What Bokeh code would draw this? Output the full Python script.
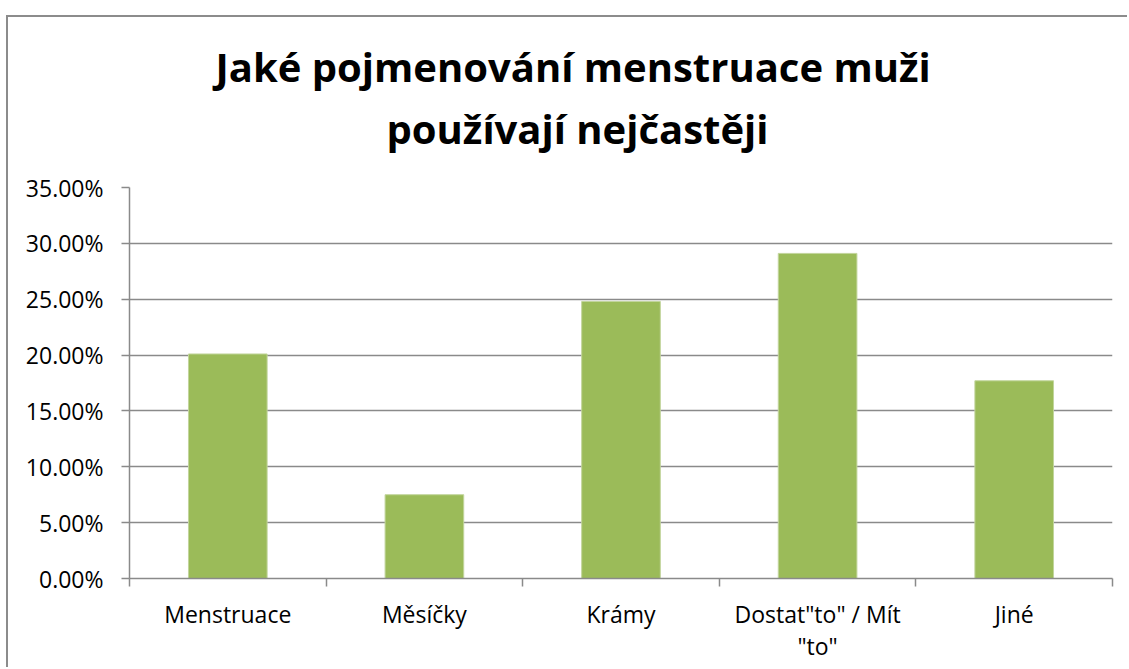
from bokeh.plotting import figure
from bokeh.models import (Range1d, LinearAxis, FixedTicker, NumeralTickFormatter, Title)
from bokeh.embed import file_html
from bokeh.resources import INLINE

# ---- data ----
categories = ["Menstruace", "Měsíčky", "Krámy", "Dostat\"to\" / Mít\n\"to\"", "Jiné"]
shares = [0.201, 0.075, 0.248, 0.291, 0.177]
y_ticks = [0.0, 0.05, 0.10, 0.15, 0.20, 0.25, 0.30, 0.35]
title_lines = ["Jaké pojmenování menstruace muži", "používají nejčastěji"]

FONT = "Open Sans"
GRID = "#8a8a8a"
BAR = "#9BBB59"

n = len(categories)
centers = [i + 0.5 for i in range(n)]
bounds = [float(i) for i in range(n + 1)]

p = figure(width=1121, height=652, output_backend="svg", toolbar_location=None,
           x_range=Range1d(0, n), y_range=Range1d(y_ticks[0], y_ticks[-1]),
           x_axis_type=None, min_border_left=121, min_border_right=17,
           min_border_top=170, min_border_bottom=91)
p.styles = {"margin-top": "15px", "margin-left": "6px",
            "border-left": "2px solid #8c8c8c", "border-top": "2px solid #8c8c8c"}
p.outline_line_color = None
p.background_fill_color = "white"
p.border_fill_color = "white"

p.vbar(x=centers, top=shares, width=0.4, bottom=0, fill_color=BAR,
       line_color="#c2d59c", line_width=1)

# y axis
ya = p.yaxis[0]
ya.ticker = FixedTicker(ticks=y_ticks)
ya.formatter = NumeralTickFormatter(format="0.00%")
ya.major_tick_out = 8
ya.major_tick_in = 0
ya.minor_tick_line_color = None
ya.axis_line_color = GRID
ya.axis_line_width = 1.5
ya.major_tick_line_color = GRID
ya.major_tick_line_width = 1.5
ya.major_label_standoff = 18
ya.major_label_text_font = FONT
ya.major_label_text_font_size = "23px"
ya.major_label_text_color = "black"

p.ygrid.grid_line_color = GRID
p.ygrid.grid_line_width = 1.5
p.xgrid.visible = False

# x axis: ticks at category boundaries
xt = LinearAxis(ticker=FixedTicker(ticks=bounds), major_tick_out=8, major_tick_in=0,
                minor_tick_line_color=None, axis_line_color=GRID, axis_line_width=1.5,
                major_tick_line_color=GRID, major_tick_line_width=1.5,
                major_label_text_font_size="0px", major_label_standoff=0,
                major_label_overrides={b: "" for b in bounds})
p.add_layout(xt, "below")

# x axis: category labels at centers
xl = LinearAxis(ticker=FixedTicker(ticks=centers), major_tick_out=0, major_tick_in=0,
                minor_tick_line_color=None, axis_line_color=None,
                major_tick_line_color=None, major_label_standoff=11,
                major_label_text_font=FONT, major_label_text_font_size="23px",
                major_label_text_color="black", major_label_text_line_height=1.0,
                major_label_overrides={c: lab for c, lab in zip(centers, categories)})
p.add_layout(xl, "below")

# title: two lines, second line closest to the frame
p.title.visible = False


def make_title(text, offset, standoff):
    kw = dict(text=text, align="left", offset=offset, text_font=FONT,
              text_font_style="bold", text_font_size="40px", text_color="black")
    try:
        return Title(standoff=standoff, **kw)
    except ValueError:
        return Title(standoff=0, **kw)


p.add_layout(make_title(title_lines[1], 257, 64), "above")
p.add_layout(make_title(title_lines[0], 86, -54), "above")

open("out.html", "w").write(file_html(p, INLINE))
